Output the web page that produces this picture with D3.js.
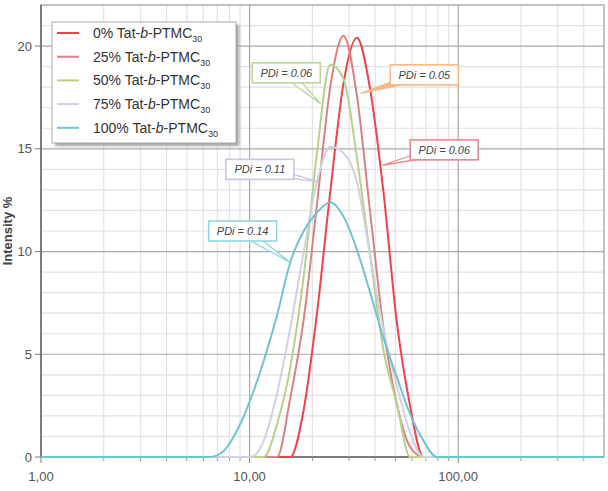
<!DOCTYPE html>
<html>
<head>
<meta charset="utf-8">
<script src="https://cdn.jsdelivr.net/npm/d3@7"></script>
<style>
  body { margin: 0; background: #fff; }
  svg { display: block; font-family: "Liberation Sans", Arial, sans-serif; }
</style>
</head>
<body>
<svg id="chart" width="608" height="491"></svg>
<script>
// size bins (d.nm), log spaced like the instrument export
const sizes = [0.9649, 1.117, 1.294, 1.499, 1.736, 2.010, 2.328, 2.696, 3.122, 3.615,
  4.187, 4.849, 5.615, 6.503, 7.531, 8.721, 10.10, 11.70, 13.54, 15.69,
  18.17, 21.04, 24.36, 28.21, 32.67, 37.84, 43.82, 50.75, 58.77, 68.06,
  78.82, 91.28, 105.7, 122.4, 141.8, 164.2, 190.1, 220.2, 255.0, 295.3,
  342.0, 396.1, 458.7, 531.2];

// intensity % per bin
const tat0 = [0,0,0,0,0,0,0,0,0,0, 0,0,0,0,0,0,0,0,0,0,
  2.3,7.0,12.9,18.2,20.4,17.9,12.9,6.6,2.5,0, 0,0,0,0,0,0,0,0,0,0, 0,0,0,0];
const tat25 = [0,0,0,0,0,0,0,0,0,0, 0,0,0,0,0,0,0,0,0,2.9,
  6.7,12.3,18.0,20.5,17.6,11.9,6.3,2.6,0.5,0, 0,0,0,0,0,0,0,0,0,0, 0,0,0,0];
const tat50 = [0,0,0,0,0,0,0,0,0,0, 0,0,0,0,0,0,0,0,1.6,4.4,
  8.8,14.8,19.1,18.4,14.6,9.8,5.2,2.6,0,0, 0,0,0,0,0,0,0,0,0,0, 0,0,0,0];
const tat75 = [0,0,0,0,0,0,0,0,0,0, 0,0,0,0,0,0,0,0.8,3.1,6.3,
  10.0,13.4,15.1,14.8,13.4,9.8,6.2,3.5,1.2,0, 0,0,0,0,0,0,0,0,0,0, 0,0,0,0];
const tat100 = [0,0,0,0,0,0,0,0,0,0, 0,0,0,0,0.3,1.3,2.8,4.7,6.9,9.5,
  11.0,11.9,12.4,11.7,10.1,8.0,5.8,3.9,2.1,0.8, 0,0,0,0,0,0,0,0,0,0, 0,0,0,0];

const seriesNames = ["0%", "25%", "50%", "75%", "100%"];
const seriesValues = [tat0, tat25, tat50, tat75, tat100];
const seriesColors = ["#f1414b", "#db8084", "#b9d08b", "#d2d0e3", "#6fc4d0"];

const xTicks = [1, 10, 100];
const xTickLabels = ["1,00", "10,00", "100,00"];
const yTicks = [0, 5, 10, 15, 20];

// PDi callouts: label, box centre (size, intensity), tip on the curve
const pdiLabels = ["PDi = 0.06", "PDi = 0.05", "PDi = 0.06", "PDi = 0.11", "PDi = 0.14"];
const pdiBox = [[15.0, 18.7], [68.8, 18.6], [85.7, 14.95], [11.2, 14.0], [9.26, 11.0]];
const pdiTip = [[21.9, 17.2], [34.0, 17.7], [43.3, 14.2], [21.2, 13.4], [15.5, 9.5]];
const pdiColors = ["#bcd69a", "#f6b987", "#e48a90", "#c9c6e0", "#92d5de"];

const W = 608, H = 491;
const m = { left: 41, right: 4, top: 5, bottom: 34 };

const svg = d3.select("#chart");
svg.append("rect").attr("width", W).attr("height", H).attr("fill", "#fff");

const x = d3.scaleLog().domain([1, 500]).range([m.left, W - m.right]);
const y = d3.scaleLinear().domain([0, 22]).range([H - m.bottom, m.top]);

// grid
const minorX = [];
[1, 10, 100].forEach(dec => d3.range(2, 10).forEach(k => { if (dec * k < 500) minorX.push(dec * k); }));
const grid = svg.append("g");
grid.selectAll(".vminor").data(minorX).enter().append("line")
  .attr("x1", d => x(d)).attr("x2", d => x(d))
  .attr("y1", y(0)).attr("y2", y(22))
  .attr("stroke", "#e2e2e2").attr("stroke-width", 1.2);
grid.selectAll(".hminor").data(d3.range(1, 22).filter(d => d % 5 !== 0)).enter().append("line")
  .attr("x1", x(1)).attr("x2", x(500))
  .attr("y1", d => y(d)).attr("y2", d => y(d))
  .attr("stroke", "#e2e2e2").attr("stroke-width", 1.2);
grid.selectAll(".vmajor").data([10, 100]).enter().append("line")
  .attr("x1", d => x(d)).attr("x2", d => x(d))
  .attr("y1", y(0)).attr("y2", y(22))
  .attr("stroke", "#a8a8a8").attr("stroke-width", 1.2);
grid.selectAll(".hmajor").data([5, 10, 15, 20]).enter().append("line")
  .attr("x1", x(1)).attr("x2", x(500))
  .attr("y1", d => y(d)).attr("y2", d => y(d))
  .attr("stroke", "#a8a8a8").attr("stroke-width", 1.2);

// frame
svg.append("rect")
  .attr("x", x(1)).attr("y", y(22))
  .attr("width", x(500) - x(1)).attr("height", y(0) - y(22))
  .attr("fill", "none").attr("stroke", "#9a9a9a").attr("stroke-width", 1.2);

// axes
const xAxis = svg.append("g").attr("transform", `translate(0,${y(0)})`);
xAxis.append("line").attr("x1", x(1)).attr("x2", x(500)).attr("stroke", "#666").attr("stroke-width", 1.5);
xAxis.selectAll(".tmin").data(minorX).enter().append("line")
  .attr("x1", d => x(d)).attr("x2", d => x(d)).attr("y1", 0).attr("y2", 4)
  .attr("stroke", "#999");
xAxis.selectAll(".tmaj").data(xTicks).enter().append("line")
  .attr("x1", d => x(d)).attr("x2", d => x(d)).attr("y1", 0).attr("y2", 6)
  .attr("stroke", "#777");
xAxis.selectAll("text").data(xTicks).enter().append("text")
  .attr("x", d => x(d)).attr("y", 24)
  .attr("text-anchor", "middle").attr("font-size", 13).attr("fill", "#555")
  .text((d, i) => xTickLabels[i]);

const yAxis = svg.append("g").attr("transform", `translate(${x(1)},0)`);
yAxis.append("line").attr("y1", y(0)).attr("y2", y(22)).attr("stroke", "#666").attr("stroke-width", 1.5);
yAxis.selectAll(".tick").data(yTicks).enter().append("line")
  .attr("x1", -6).attr("x2", 0).attr("y1", d => y(d)).attr("y2", d => y(d))
  .attr("stroke", "#777");
yAxis.selectAll("text").data(yTicks).enter().append("text")
  .attr("x", -9).attr("y", d => y(d)).attr("dy", "0.35em")
  .attr("text-anchor", "end").attr("font-size", 13).attr("fill", "#555")
  .text(d => d);

svg.append("text")
  .attr("transform", `translate(12,${y(11)}) rotate(-90)`)
  .attr("text-anchor", "middle").attr("font-size", 13).attr("font-weight", "bold")
  .attr("fill", "#444").text("Intensity %");

// curves
const clip = svg.append("clipPath").attr("id", "plot").append("rect")
  .attr("x", x(1)).attr("y", y(22)).attr("width", x(500) - x(1)).attr("height", y(0) - y(22) + 2);
const line = d3.line().x(d => x(d[0])).y(d => y(d[1])).curve(d3.curveMonotoneX);
const curves = svg.append("g").attr("clip-path", "url(#plot)");
seriesValues.forEach((vals, i) => {
  curves.append("path")
    .attr("d", line(sizes.map((s, j) => [s, vals[j]])))
    .attr("fill", "none").attr("stroke", seriesColors[i]).attr("stroke-width", 2);
});

// PDi callouts
const bw = 68, bh = 20;
pdiLabels.forEach((lab, i) => {
  const cx = x(pdiBox[i][0]), cy = y(pdiBox[i][1]);
  const tx = x(pdiTip[i][0]), ty = y(pdiTip[i][1]);
  const len = Math.hypot(tx - cx, ty - cy);
  const nx = -(ty - cy) / len * 5, ny = (tx - cx) / len * 5;
  const g = svg.append("g");
  g.append("polygon")
    .attr("points", [[cx + nx, cy + ny], [cx - nx, cy - ny], [tx, ty]].map(p => p.join(",")).join(" "))
    .attr("fill", i === 1 ? pdiColors[i] : "#fff")
    .attr("stroke", pdiColors[i]).attr("stroke-width", 1.3);
  g.append("rect")
    .attr("x", cx - bw / 2).attr("y", cy - bh / 2).attr("width", bw).attr("height", bh)
    .attr("fill", "#fff").attr("stroke", pdiColors[i]).attr("stroke-width", 1.6);
  g.append("text")
    .attr("x", cx).attr("y", cy).attr("dy", "0.36em")
    .attr("text-anchor", "middle").attr("font-size", 11).attr("font-style", "italic")
    .attr("fill", "#444").text(lab);
});

// legend
const defs = svg.append("defs");
defs.append("filter").attr("id", "blur").append("feGaussianBlur").attr("stdDeviation", 1.5);
const lg = svg.append("g").attr("transform", "translate(52,22)");
lg.append("rect").attr("x", 3).attr("y", 3).attr("width", 184).attr("height", 121)
  .attr("fill", "#a0a0a0").attr("filter", "url(#blur)");
lg.append("rect").attr("width", 184).attr("height", 121)
  .attr("fill", "#fff").attr("stroke", "#aaa").attr("stroke-width", 1);
seriesNames.forEach((name, i) => {
  const ly = 11 + i * 23.7;
  lg.append("line").attr("x1", 5).attr("x2", 27).attr("y1", ly).attr("y2", ly)
    .attr("stroke", seriesColors[i]).attr("stroke-width", 2);
  const t = lg.append("text").attr("x", 41).attr("y", ly).attr("dy", "0.36em")
    .attr("font-size", 14).attr("fill", "#333");
  t.append("tspan").text(name + " Tat-");
  t.append("tspan").attr("font-style", "italic").text("b");
  t.append("tspan").text("-PTMC");
  t.append("tspan").attr("font-size", 9).attr("dy", 4).text("30");
});
</script>
</body>
</html>
